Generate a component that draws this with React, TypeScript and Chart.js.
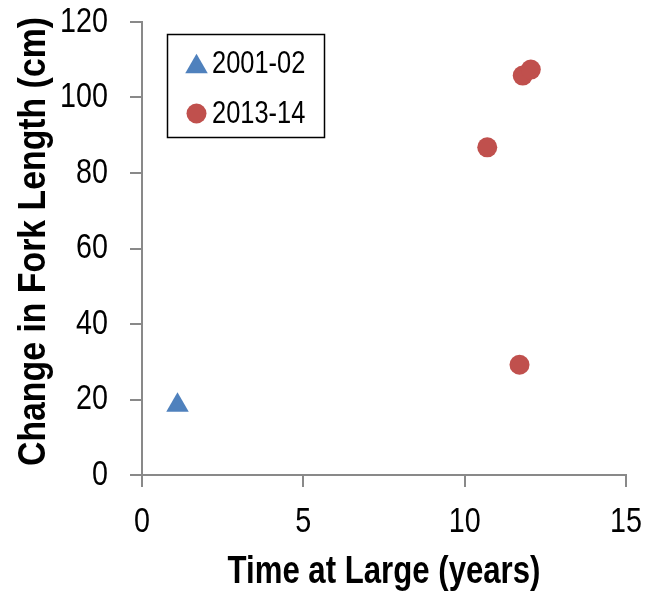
import React, { useEffect, useRef } from "react";
import { Chart, registerables } from "chart.js";

Chart.register(...registerables);

const seriesLabels = ["2001-02", "2013-14"];
const xSeries2001 = [1.1];
const ySeries2001 = [18.5];
const xSeries2013 = [10.7, 11.7, 11.8, 12.05];
const ySeries2013 = [86.8, 29.2, 105.8, 107.4];
const xAxisTitle = "Time at Large (years)";
const yAxisTitle = "Change in Fork Length (cm)";
const xRange = [0, 15, 5];
const yRange = [0, 120, 20];

const BLUE = "#4F81BD";
const RED = "#C0504D";
const AXIS = "#898989";
const FONT = "'Liberation Sans', Arial, sans-serif";
const NARROW = 0.82;
const NARROW_ROTATED = 0.89;

const boxLegend = {
  id: "boxLegend",
  afterDraw(chart: any) {
    const ctx = chart.ctx as CanvasRenderingContext2D;
    ctx.save();
    ctx.strokeStyle = "#000";
    ctx.lineWidth = 1.5;
    ctx.strokeRect(167.5, 34.5, 157, 103);
    chart.data.datasets.forEach((ds: any, i: number) => {
      const cx = 196.5;
      const cy = 63.5 + i * 50;
      ctx.fillStyle = ds.backgroundColor;
      ctx.beginPath();
      if (ds.pointStyle === "triangle") {
        const r = 13;
        const h = 1.5 * r;
        const w = Math.sqrt(3) * r;
        ctx.moveTo(cx, cy - h / 2);
        ctx.lineTo(cx + w / 2, cy + h / 2);
        ctx.lineTo(cx - w / 2, cy + h / 2);
        ctx.closePath();
      } else {
        ctx.arc(cx, cy, 10, 0, Math.PI * 2);
      }
      ctx.fill();
      ctx.fillStyle = "#000";
      ctx.font = `31px ${FONT}`;
      ctx.textBaseline = "middle";
      ctx.textAlign = "left";
      ctx.fillText(ds.label, 212, cy + 1);
    });
    ctx.restore();
  },
};

export default function App() {
  const ref = useRef<HTMLCanvasElement>(null);
  useEffect(() => {
    if (!ref.current) return;
    const c2d = ref.current.getContext("2d") as any;
    if (c2d && !c2d.__narrow) {
      const orig = c2d.fillText.bind(c2d);
      c2d.fillText = (text: string, x: number, y: number, maxWidth?: number) => {
        const m = c2d.getTransform();
        const rotated = Math.abs(m.b) > 0.5;
        const f = rotated ? NARROW_ROTATED : NARROW;
        c2d.save();
        c2d.translate(x + (rotated ? 7 : 0), y);
        c2d.scale(f, 1);
        if (maxWidth === undefined) orig(text, 0, 0);
        else orig(text, 0, 0, maxWidth / f);
        c2d.restore();
      };
      c2d.__narrow = true;
    }
    const chart = new Chart(ref.current, {
      type: "scatter",
      data: {
        datasets: [
          {
            label: seriesLabels[0],
            data: xSeries2001.map((x, i) => ({ x, y: ySeries2001[i] })),
            backgroundColor: BLUE,
            borderColor: BLUE,
            borderWidth: 0,
            pointStyle: "triangle",
            pointRadius: 13,
          },
          {
            label: seriesLabels[1],
            data: xSeries2013.map((x, i) => ({ x, y: ySeries2013[i] })),
            backgroundColor: RED,
            borderColor: RED,
            borderWidth: 0,
            pointStyle: "circle",
            pointRadius: 10,
          },
        ],
      },
      options: {
        responsive: false,
        animation: false,
        layout: { padding: { top: 22, right: 28, left: 0, bottom: 0 } },
        plugins: { legend: { display: false }, tooltip: { enabled: false } },
        scales: {
          x: {
            type: "linear",
            min: xRange[0],
            max: xRange[1],
            afterFit: (s: any) => {
              s.height = 120;
              s.paddingLeft = 0;
              s.paddingRight = 0;
            },
            ticks: {
              stepSize: xRange[2],
              color: "#000",
              padding: 14,
              font: { family: FONT, size: 35 },
            },
            grid: { drawOnChartArea: false, color: AXIS, lineWidth: 2, tickLength: 12 },
            border: { color: AXIS, width: 2 },
            title: {
              display: true,
              text: xAxisTitle,
              color: "#000",
              font: { family: FONT, size: 38, weight: "bold" },
              padding: { top: 0, bottom: 0 },
            },
          },
          y: {
            type: "linear",
            min: yRange[0],
            max: yRange[1],
            afterFit: (s: any) => {
              s.width = 142;
              s.paddingTop = 0;
              s.paddingBottom = 0;
            },
            ticks: {
              stepSize: yRange[2],
              color: "#000",
              padding: 22,
              font: { family: FONT, size: 35 },
            },
            grid: { drawOnChartArea: false, color: AXIS, lineWidth: 2, tickLength: 12 },
            border: { color: AXIS, width: 2 },
            title: {
              display: true,
              text: yAxisTitle,
              color: "#000",
              font: { family: FONT, size: 38, weight: "bold" },
              padding: { top: 12, bottom: 0 },
            },
          },
        },
      },
      plugins: [boxLegend],
    });
    return () => chart.destroy();
  }, []);
  return (
    <div style={{ position: "fixed", left: 0, top: 0, width: 654, height: 595, background: "#fff" }}>
      <canvas ref={ref} width={654} height={595} />
    </div>
  );
}
